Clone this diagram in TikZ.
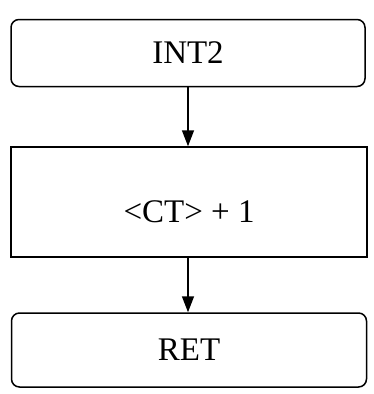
\documentclass[tikz,border=0pt]{standalone}
\usepackage{fontspec}
\setmainfont{Liberation Serif}
\usetikzlibrary{arrows.meta}
\begin{document}
\begin{tikzpicture}[x=1pt,y=-1pt,
  box/.style={draw, line width=1.5pt, inner sep=0pt, font=\fontsize{33}{40}\selectfont},
  rbox/.style={box, rounded corners=8pt},
  arr/.style={-{Triangle[length=16pt,width=12pt]}, line width=1.5pt}]
\useasboundingbox (0,0) rectangle (374,394);
\node[rbox, minimum width=354pt, minimum height=67pt] (int) at (188,53) {INT2};
\node[box, minimum width=356pt, minimum height=110pt, text height=45pt, text depth=5pt] (ct) at (189,202) {<CT> + 1};
\node[rbox, minimum width=355pt, minimum height=74pt] (ret) at (189,350) {RET};
\draw[arr] (int.south) -- (int.south |- ct.north);
\draw[arr] (int.south |- ct.south) -- (int.south |- ret.north);
\end{tikzpicture}
\end{document}
